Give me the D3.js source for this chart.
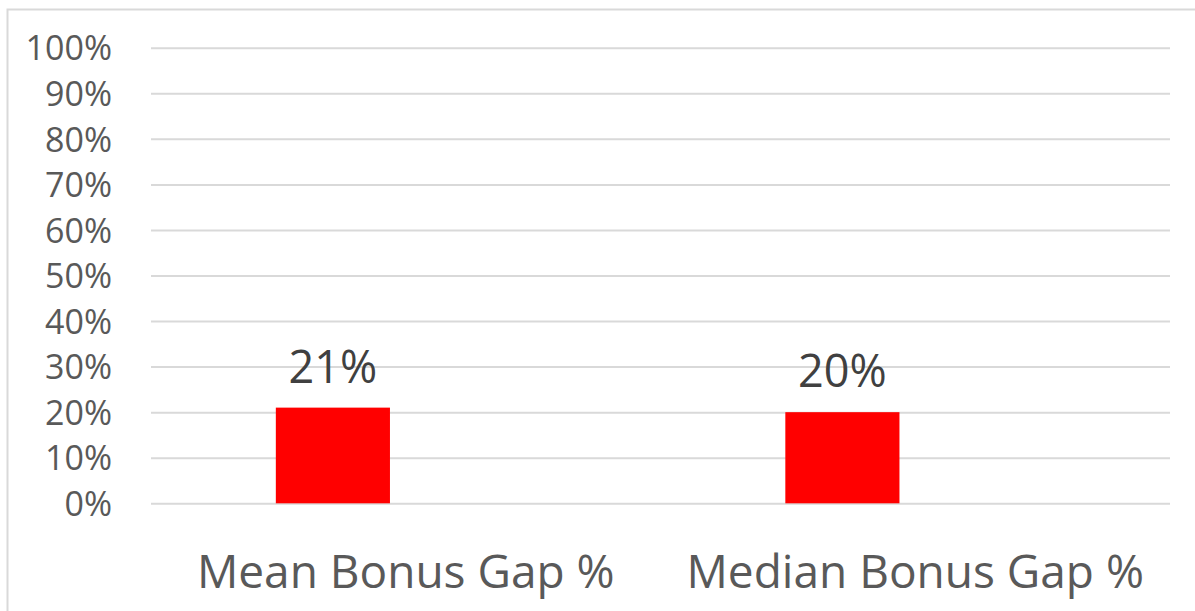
<!DOCTYPE html>
<html>
<head>
<meta charset="utf-8">
<script src="https://cdn.jsdelivr.net/npm/d3@7"></script>
<style>
	body { margin: 0; background: #fff; }
	svg { display: block; font-family: "Open Sans", sans-serif; }
</style>
</head>
<body>
<div class="chart"></div>
<script>
// chart values
const categories = ['Mean Bonus Gap %', 'Median Bonus Gap %'],
	values = [0.21, 0.20],
	yTicks = [0, 0.1, 0.2, 0.3, 0.4, 0.5, 0.6, 0.7, 0.8, 0.9, 1.0];

const outerW = 1195,
	outerH = 611;

const margin = { left: 151, right: 25, top: 47.7, bottom: 107.7 };
const w = outerW - margin.left - margin.right,
	h = outerH - margin.top - margin.bottom;

const svg = d3.select('.chart').append('svg')
	.attr('width', outerW)
	.attr('height', outerH);

// chart area border
svg.append('rect')
	.attr('x', 7.5)
	.attr('y', 9.5)
	.attr('width', outerW + 20)
	.attr('height', outerH + 20)
	.attr('fill', 'none')
	.attr('stroke', '#d9d9d9')
	.attr('stroke-width', 2);

const g = svg.append('g')
	.attr('transform', `translate(${margin.left}, ${margin.top})`);

const x = d3.scaleBand().domain(categories).range([0, w]).padding(0);
const y = d3.scaleLinear().domain([0, 1]).range([h, 0]);

// gridlines + tick labels
const yAxis = g.append('g')
	.attr('class', 'y axis')
	.call(d3.axisLeft(y)
		.tickValues(yTicks)
		.tickFormat(d3.format('.0%'))
		.tickSize(-w)
		.tickPadding(39)
	)
	.attr('font-family', '"Open Sans", sans-serif')
	.attr('font-size', 34);

yAxis.select('.domain').remove();
yAxis.selectAll('.tick line')
	.attr('stroke', '#d9d9d9')
	.attr('stroke-width', 2);
yAxis.selectAll('.tick text')
	.attr('fill', '#595959')
	.attr('dy', '0.36em');

// bars sit left of the category centre (empty second series in original)
const barOffset = x.bandwidth() * 0.245,
	barW = x.bandwidth() * 0.224;

g.selectAll('.bar')
	.data(values)
	.enter().append('rect')
	.attr('class', 'bar')
	.attr('x', (d, i) => x(categories[i]) + barOffset)
	.attr('y', d => y(d))
	.attr('width', barW)
	.attr('height', d => h - y(d))
	.attr('fill', '#ff0000');

g.selectAll('.data-label')
	.data(values)
	.enter().append('text')
	.attr('class', 'data-label')
	.attr('x', (d, i) => x(categories[i]) + barOffset + barW / 2)
	.attr('y', d => y(d) - 25)
	.attr('text-anchor', 'middle')
	.attr('fill', '#404040')
	.attr('font-size', 45)
	.text(d => d3.format('.0%')(d));

// category labels
g.selectAll('.cat-label')
	.data(categories)
	.enter().append('text')
	.attr('class', 'cat-label')
	.attr('x', d => x(d) + x.bandwidth() / 2)
	.attr('y', h + 85)
	.attr('text-anchor', 'middle')
	.attr('fill', '#595959')
	.attr('font-size', 46)
	.text(d => d);
</script>
</body>
</html>
